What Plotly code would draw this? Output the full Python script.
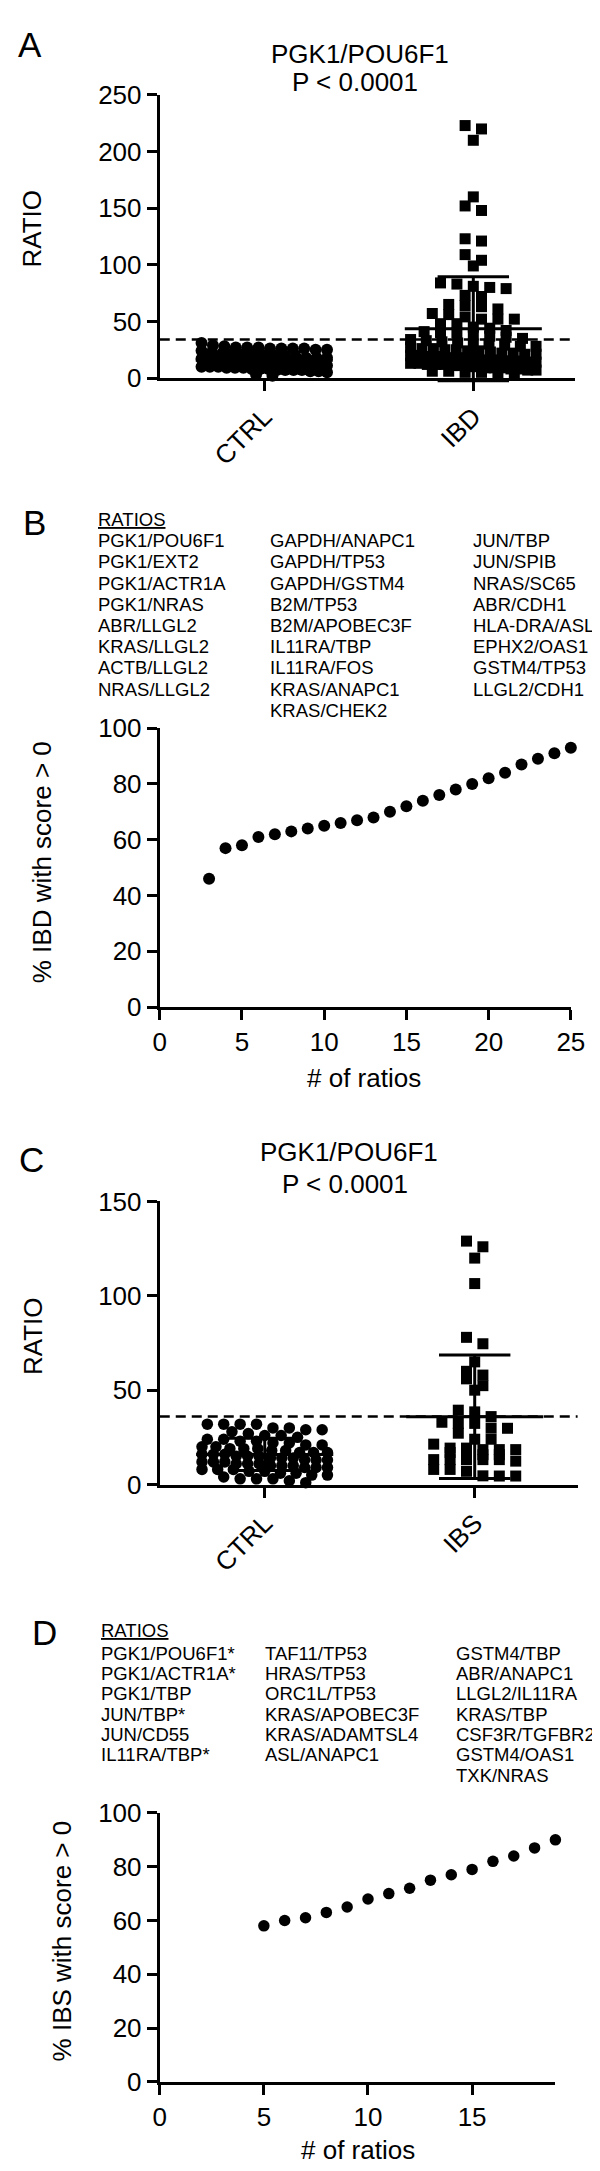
import numpy as np
import plotly.graph_objects as go

FONT = "Liberation Sans, Arial, Helvetica, sans-serif"
W, H = 600, 2171

# ---------------- data ----------------
# Panel A : PGK1/POU6F1 ratio, CTRL vs IBD
groups_A = ["CTRL", "IBD"]
ctrl_A = [27, 26, 26, 25, 27, 31, 26, 27, 25, 22, 21, 23, 20, 22, 19, 21, 18, 20, 19, 17,
          18, 16, 17, 15, 16, 15, 14, 15, 14, 13, 13, 12, 14, 12, 11, 12, 10, 11, 10, 9,
          10, 9, 8, 9, 8, 7, 8, 7, 7, 6, 7, 6, 5, 3, 2, 18, 16, 13, 11, 24, 28, 29, 26]
ibd_A = [223, 220, 210, 160, 152, 148, 123, 121, 109, 104, 99, 84, 83, 81, 80, 79, 73, 72,
         65, 64, 63, 61, 57, 56, 54, 52, 52, 52, 48, 48, 45,
         44, 42, 41, 40, 40, 38, 37, 36, 35, 34, 33, 32, 31, 30, 30, 29, 28, 28, 27, 26,
         26, 25, 24, 24, 23, 22, 22, 21, 20, 20, 19, 19, 18, 18, 17, 17, 16, 16, 15, 15,
         14, 14, 13, 13, 12, 12, 11, 11, 10, 10, 9, 9, 8, 8, 7, 7, 6, 6, 5, 5, 4, 3,
         25, 21, 18, 15, 12, 9]
cutoff_A = 34
yticks_A = [0, 50, 100, 150, 200, 250]

# Panel B : % IBD with score > 0 vs number of ratios
n_ratios_B = [3, 4, 5, 6, 7, 8, 9, 10, 11, 12, 13, 14, 15, 16, 17, 18, 19, 20, 21, 22, 23, 24, 25]
pct_ibd_B = [46, 57, 58, 61, 62, 63, 64, 65, 66, 67, 68, 70, 72, 74, 76, 78, 80, 82, 84, 87, 89, 91, 93]
ratios_B = [
    ["PGK1/POU6F1", "PGK1/EXT2", "PGK1/ACTR1A", "PGK1/NRAS", "ABR/LLGL2", "KRAS/LLGL2",
     "ACTB/LLGL2", "NRAS/LLGL2"],
    ["GAPDH/ANAPC1", "GAPDH/TP53", "GAPDH/GSTM4", "B2M/TP53", "B2M/APOBEC3F", "IL11RA/TBP",
     "IL11RA/FOS", "KRAS/ANAPC1", "KRAS/CHEK2"],
    ["JUN/TBP", "JUN/SPIB", "NRAS/SC65", "ABR/CDH1", "HLA-DRA/ASL", "EPHX2/OAS1",
     "GSTM4/TP53", "LLGL2/CDH1"],
]

# Panel C : PGK1/POU6F1 ratio, CTRL vs IBS
groups_C = ["CTRL", "IBS"]
ctrl_C = [32, 32, 32, 32, 30, 30, 29, 29, 28, 27, 26, 26, 25, 24, 24, 23, 23, 22, 22, 21,
          21, 20, 20, 19, 19, 19, 18, 18, 17, 17, 17, 16, 16, 16, 15, 15, 15, 14, 14, 14,
          13, 13, 13, 12, 12, 12, 11, 11, 11, 10, 10, 10, 9, 9, 9, 8, 8, 8, 7, 7,
          6, 6, 5, 5, 4, 3, 3, 3, 2, 1]
ibs_C = [129, 126, 120, 106.5, 78, 74.6, 65, 60, 58, 56, 52.4, 50, 39.4, 38.5, 36,
         32.4, 32.4, 33, 29.8, 29.9, 27.2, 24, 24, 21.4, 19.3, 19.3, 18.5, 18.5, 18.5, 17,
         15.8, 16, 13.2, 13.2, 13.2, 13.2, 13.2, 15.8, 12.4, 8, 7, 8, 4.5, 4.6, 4.5]
cutoff_C = 36
yticks_C = [0, 50, 100, 150]

# Panel D : % IBS with score > 0 vs number of ratios
n_ratios_D = [5, 6, 7, 8, 9, 10, 11, 12, 13, 14, 15, 16, 17, 18, 19]
pct_ibs_D = [58, 60, 61, 63, 65, 68, 70, 72, 75, 77, 79, 82, 84, 87, 90]
ratios_D = [
    ["PGK1/POU6F1*", "PGK1/ACTR1A*", "PGK1/TBP", "JUN/TBP*", "JUN/CD55", "IL11RA/TBP*"],
    ["TAF11/TP53", "HRAS/TP53", "ORC1L/TP53", "KRAS/APOBEC3F", "KRAS/ADAMTSL4", "ASL/ANAPC1"],
    ["GSTM4/TBP", "ABR/ANAPC1", "LLGL2/IL11RA", "KRAS/TBP", "CSF3R/TGFBR2", "GSTM4/OAS1",
     "TXK/NRAS"],
]


# ---------------- helpers ----------------
def px_x(p):
    return p / W


def px_y(p):
    return 1 - p / H


def row_swarm(values, ppu_y, ppu_x, row_h, spacing, max_half):
    """Prism-like column scatter: group values into rows, spread each row horizontally."""
    vals = np.asarray(values, float)
    order = np.argsort(-vals, kind="stable")
    rows, cur, top = [], [], None
    for i in order:
        y = vals[i] * ppu_y
        if top is None or top - y > row_h:
            if cur:
                rows.append(cur)
            cur, top = [i], y
        else:
            cur.append(i)
    if cur:
        rows.append(cur)
    offs = np.zeros(len(vals))
    for r in rows:
        n = len(r)
        sp = spacing if n == 1 else min(spacing, 2 * max_half / (n - 1))
        for k, i in enumerate(r):
            offs[i] = (k - (n - 1) / 2) * sp / ppu_x
    return offs


def mean_sd_path(center, vals, half_mean, half_cap):
    m = float(np.mean(vals))
    s = float(np.std(vals, ddof=1))
    xs = [center - half_mean, center + half_mean, None,
          center - half_cap, center + half_cap, None,
          center - half_cap, center + half_cap, None,
          center, center]
    ys = [m, m, None, m + s, m + s, None, m - s, m - s, None, m - s, m + s]
    return xs, ys


fig = go.Figure()

axis_common = dict(showline=True, linewidth=3, linecolor="black", ticks="outside",
                   ticklen=10, tickwidth=3, tickcolor="black", showgrid=False,
                   zeroline=False, fixedrange=True,
                   tickfont=dict(family=FONT, size=26, color="black"))

# ---------- geometry (pixels) ----------
A_x0, A_x1, A_ybot, A_ytop = 150, 580, 360, 73
A_range_x = [0.5, 2.485]
B_x0, B_x1, B_ybot, B_ytop = 150, 576, 998, 715
C_x0, C_x1, C_ybot, C_ytop = 150, 583, 1482, 1195
C_range_x = [0.5, 2.49]
D_x0, D_x1, D_ybot, D_ytop = 150, 560, 2087.7, 1815


def scatter_group_panel(xa, ya, xa_err, ya_err, ctrl, dis, x0, x1, ybot, ytop, rng_x, ymax,
                        size_ctrl, size_dis):
    ppu_x = (x1 - x0) / (rng_x[1] - rng_x[0])
    ppu_y = (ybot - ytop) / ymax
    oc = row_swarm(ctrl, ppu_y, ppu_x, 7, 17, 65)
    od = row_swarm(dis, ppu_y, ppu_x, 7, 17, 65)
    fig.add_trace(go.Scatter(x=(1 + oc).tolist(), y=ctrl, mode="markers", xaxis=xa, yaxis=ya,
                             marker=dict(symbol="circle", size=size_ctrl, color="black",
                                         line=dict(width=0)),
                             cliponaxis=False, showlegend=False, hoverinfo="skip"))
    fig.add_trace(go.Scatter(x=(2 + od).tolist(), y=dis, mode="markers", xaxis=xa, yaxis=ya,
                             marker=dict(symbol="square", size=size_dis, color="black",
                                         line=dict(width=0)),
                             cliponaxis=False, showlegend=False, hoverinfo="skip"))
    hm = 71 / ppu_x
    hc = 37 / ppu_x
    xs1, ys1 = mean_sd_path(1, ctrl, hm, hc)
    xs2, ys2 = mean_sd_path(2, dis, hm, hc)
    fig.add_trace(go.Scatter(x=xs1 + [None] + xs2, y=ys1 + [None] + ys2, mode="lines",
                             xaxis=xa_err, yaxis=ya_err,
                             line=dict(color="black", width=3), showlegend=False,
                             hoverinfo="skip"))
    return ppu_y


ppuA = scatter_group_panel("x", "y", "x5", "y5", ctrl_A, ibd_A, A_x0, A_x1, A_ybot, A_ytop,
                           A_range_x, 250, 12, 11)
ppuC = scatter_group_panel("x3", "y3", "x6", "y6", ctrl_C, ibs_C, C_x0, C_x1, C_ybot, C_ytop,
                           C_range_x, 150, 11.5, 11)

fig.add_trace(go.Scatter(x=n_ratios_B, y=pct_ibd_B, mode="markers", xaxis="x2", yaxis="y2",
                         marker=dict(symbol="circle", size=12, color="black", line=dict(width=0)),
                         cliponaxis=False, showlegend=False, hoverinfo="skip"))
fig.add_trace(go.Scatter(x=n_ratios_D, y=pct_ibs_D, mode="markers", xaxis="x4", yaxis="y4",
                         marker=dict(symbol="circle", size=11.5, color="black", line=dict(width=0)),
                         cliponaxis=False, showlegend=False, hoverinfo="skip"))

EXT = 25  # extra px below the axis so the lower SD cap is not clipped
layout_axes = dict(
    xaxis=dict(axis_common, domain=[px_x(A_x0), px_x(A_x1)], range=A_range_x,
               tickvals=[1, 2], ticktext=groups_A, tickangle=-45, anchor="y"),
    yaxis=dict(axis_common, domain=[px_y(A_ybot), px_y(A_ytop)], range=[0, 250],
               tickvals=yticks_A, anchor="x"),
    xaxis5=dict(visible=False, domain=[px_x(A_x0), px_x(A_x1)], range=A_range_x,
                anchor="y5", fixedrange=True),
    yaxis5=dict(visible=False, domain=[px_y(A_ybot + EXT), px_y(A_ytop)],
                range=[-EXT / ppuA, 250], anchor="x5", fixedrange=True),
    xaxis2=dict(axis_common, domain=[px_x(B_x0), px_x(B_x1)], range=[0, 25],
                tickvals=[0, 5, 10, 15, 20, 25], anchor="y2"),
    yaxis2=dict(axis_common, domain=[px_y(B_ybot), px_y(B_ytop)], range=[0, 100],
                tickvals=[0, 20, 40, 60, 80, 100], anchor="x2"),
    xaxis3=dict(axis_common, domain=[px_x(C_x0), px_x(C_x1)], range=C_range_x,
                tickvals=[1, 2], ticktext=groups_C, tickangle=-45, anchor="y3"),
    yaxis3=dict(axis_common, domain=[px_y(C_ybot), px_y(C_ytop)], range=[0, 150],
                tickvals=yticks_C, anchor="x3"),
    xaxis6=dict(visible=False, domain=[px_x(C_x0), px_x(C_x1)], range=C_range_x,
                anchor="y6", fixedrange=True),
    yaxis6=dict(visible=False, domain=[px_y(C_ybot + EXT), px_y(C_ytop)],
                range=[-EXT / ppuC, 150], anchor="x6", fixedrange=True),
    xaxis4=dict(axis_common, domain=[px_x(D_x0), px_x(D_x1)], range=[0, 19],
                tickvals=[0, 5, 10, 15], anchor="y4"),
    yaxis4=dict(axis_common, domain=[px_y(D_ybot), px_y(D_ytop)], range=[0, 100],
                tickvals=[0, 20, 40, 60, 80, 100], anchor="x4"),
)

shapes = [
    dict(type="line", xref="x domain", yref="y", x0=0, x1=1, y0=cutoff_A, y1=cutoff_A,
         line=dict(color="black", width=2.5, dash="10px,6px")),
    dict(type="line", xref="x3 domain", yref="y3", x0=0, x1=1, y0=cutoff_C, y1=cutoff_C,
         line=dict(color="black", width=2.5, dash="10px,6px")),
]

annotations = []


def ann(text, xp, yp, size, xanchor="center", angle=0):
    annotations.append(dict(text=text, x=px_x(xp), y=px_y(yp), xref="paper", yref="paper",
                            xanchor=xanchor, yanchor="middle", showarrow=False,
                            textangle=angle, borderpad=0,
                            font=dict(family=FONT, size=size, color="black")))


ann("A", 16, 22, 35)
ann("B", 20, 507, 35)
ann("C", 17, 1152, 35)
ann("D", 31, 1632, 35)
ann("PGK1/POU6F1", 357, 31, 26)
ann("P < 0.0001", 352, 60, 26)
ann("PGK1/POU6F1", 346, 1145, 26)
ann("P < 0.0001", 342, 1177, 26)
ann("RATIO", 18, 208, 26, angle=-90)
ann("% IBD with score > 0", 28, 851, 26, angle=-90)
ann("RATIO", 18, 1331, 26, angle=-90)
ann("% IBS with score > 0", 49, 1945, 26, angle=-90)
ann("# of ratios", 362, 1070, 26)
ann("# of ratios", 355, 2157, 26)

LIST_SIZE = 18.5
ann("<u>RATIOS</u>", 85, 503, LIST_SIZE, xanchor="left")
for cx, col in zip([85, 263, 474], ratios_B):
    for i, t in enumerate(col):
        ann(t, cx, 525 + 21.5 * i, LIST_SIZE, xanchor="left")
ann("<u>RATIOS</u>", 88, 1630, LIST_SIZE, xanchor="left")
for cx, col in zip([88, 258, 456], ratios_D):
    for i, t in enumerate(col):
        ann(t, cx, 1653 + 20.6 * i, LIST_SIZE, xanchor="left")

fig.update_layout(width=W, height=H, autosize=False,
                  margin=dict(l=0, r=0, t=0, b=0, pad=0),
                  paper_bgcolor="white", plot_bgcolor="rgba(0,0,0,0)",
                  font=dict(family=FONT, color="black"),
                  showlegend=False, shapes=shapes, annotations=annotations,
                  **layout_axes)

fig.write_html("out.html")
